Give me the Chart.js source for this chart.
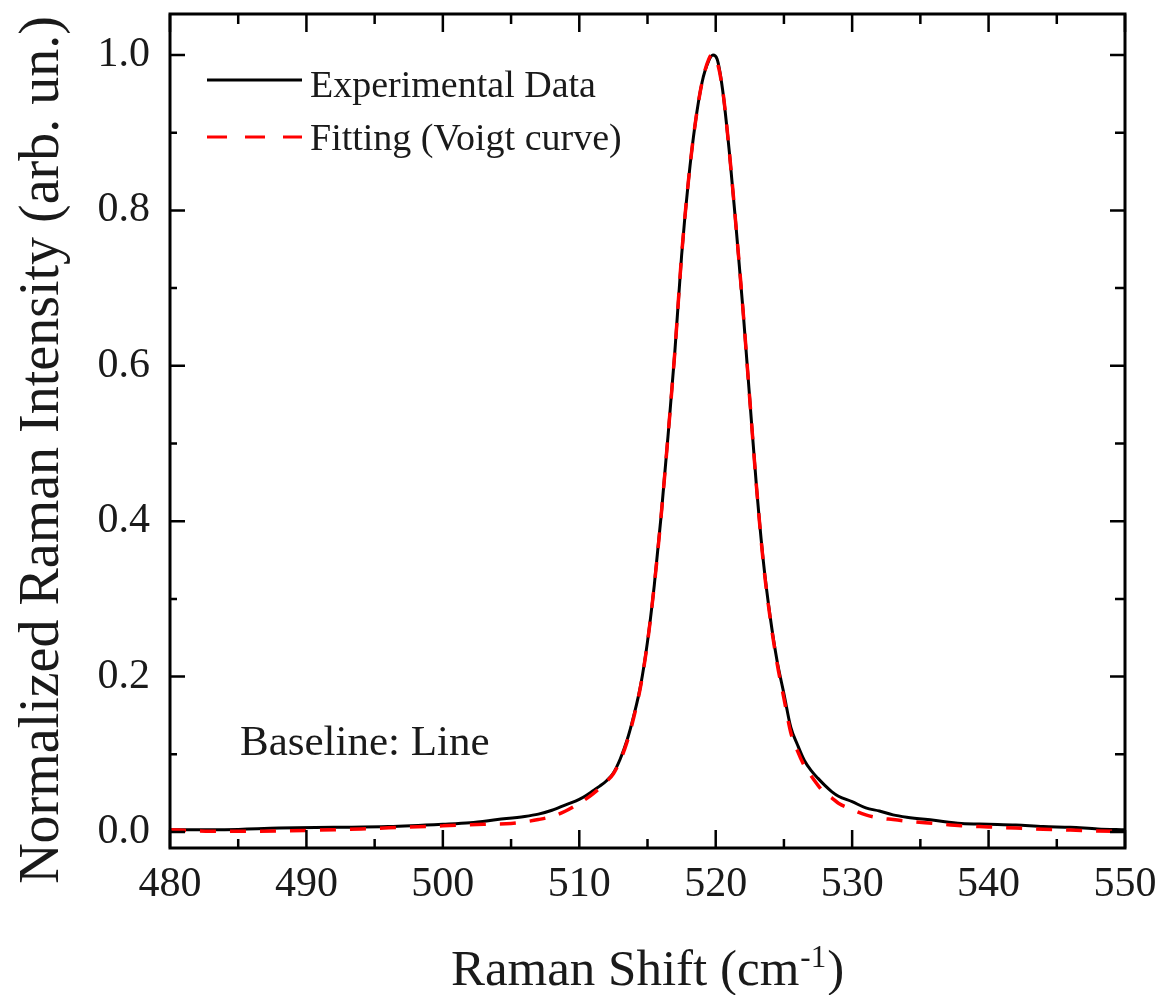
<!DOCTYPE html>
<html>
<head>
<meta charset="utf-8">
<title>Raman spectrum</title>
<script src="https://cdn.jsdelivr.net/npm/chart.js@4.4.1/dist/chart.umd.min.js"></script>
<style>
  html, body { margin: 0; padding: 0; background: #fff; }
  #wrap { width: 1161px; height: 995px; position: relative; }
</style>
</head>
<body>
<div id="wrap"><canvas id="ramanChart"></canvas></div>
<script>
// Experimental spectrum (black solid line)
const expX = [480, 484, 488, 492, 496, 500, 502, 504, 506, 507,
  508, 509, 510, 510.5, 511, 511.5, 512, 512.5, 513, 513.5,
  514, 514.5, 515, 515.5, 516, 516.5, 517, 517.5, 518, 518.5,
  519, 519.5, 519.8, 520.1, 520.5, 521, 521.5, 522, 522.5, 523,
  523.5, 524, 524.5, 525, 525.5, 526, 526.5, 527, 527.5, 528,
  528.5, 529, 530, 531, 532, 533, 534, 536, 538, 540,
  542, 544, 546, 548, 550];
const expY = [0.003, 0.003, 0.005, 0.006, 0.007, 0.010, 0.012, 0.016, 0.020, 0.023,
  0.028, 0.035, 0.042, 0.047, 0.053, 0.059, 0.066, 0.076, 0.094, 0.118,
  0.150, 0.189, 0.245, 0.318, 0.407, 0.509, 0.617, 0.742, 0.838, 0.912,
  0.965, 0.993, 1.000, 0.995, 0.956, 0.875, 0.777, 0.672, 0.556, 0.442,
  0.347, 0.276, 0.220, 0.178, 0.135, 0.112, 0.092, 0.079, 0.069, 0.060,
  0.052, 0.046, 0.039, 0.031, 0.027, 0.022, 0.019, 0.015, 0.011, 0.010,
  0.009, 0.007, 0.006, 0.004, 0.003];

// Voigt fit (red dashed line)
const fitX = [480, 483, 486, 490, 494, 497, 500, 503, 505, 506,
  507, 508, 509, 510, 511, 512, 512.5, 513, 513.5, 514,
  514.5, 515, 515.5, 516, 516.5, 517, 517.5, 518, 518.5, 519,
  519.5, 519.7, 520, 520.5, 521, 521.5, 522, 522.5, 523, 523.5,
  524, 524.5, 525, 525.5, 526, 526.5, 527, 527.5, 528, 528.5,
  529, 530, 531, 532, 533, 534, 536, 538, 540, 542,
  544, 546, 548, 550];
const fitY = [0.003, 0.001, 0.001, 0.002, 0.004, 0.006, 0.008, 0.010, 0.011, 0.013,
  0.016, 0.020, 0.027, 0.037, 0.049, 0.065, 0.075, 0.092, 0.116, 0.148,
  0.188, 0.244, 0.318, 0.407, 0.509, 0.617, 0.742, 0.838, 0.912, 0.965,
  0.995, 1.000, 0.996, 0.956, 0.875, 0.777, 0.672, 0.556, 0.442, 0.345,
  0.274, 0.217, 0.172, 0.128, 0.104, 0.085, 0.072, 0.060, 0.050, 0.044,
  0.037, 0.029, 0.022, 0.018, 0.016, 0.014, 0.011, 0.008, 0.0065, 0.005,
  0.0035, 0.0025, 0.0013, 0.001];

// Axis ticks
const xTicks = [480, 490, 500, 510, 520, 530, 540, 550];
const yTicks = [0.0, 0.2, 0.4, 0.6, 0.8, 1.0];

const SERIF = '"Liberation Serif", "Times New Roman", serif';

const toPoints = (xs, ys) => xs.map((x, i) => ({ x: x, y: ys[i] }));

// frame, inward ticks on all four sides, legend, annotations and axis titles
const decorations = {
  id: 'decorations',
  afterDraw(chart) {
    const { ctx, chartArea: a, scales: { x, y } } = chart;
    ctx.save();
    ctx.strokeStyle = '#000';
    ctx.lineCap = 'butt';

    // ticks
    ctx.lineWidth = 2.5;
    ctx.beginPath();
    const xStep = xTicks[1] - xTicks[0];
    xTicks.forEach((v, i) => {
      const px = x.getPixelForValue(v);
      ctx.moveTo(px, a.bottom); ctx.lineTo(px, a.bottom - 18);
      ctx.moveTo(px, a.top); ctx.lineTo(px, a.top + 18);
      if (i < xTicks.length - 1) {
        const pm = x.getPixelForValue(v + xStep / 2);
        ctx.moveTo(pm, a.bottom); ctx.lineTo(pm, a.bottom - 9);
        ctx.moveTo(pm, a.top); ctx.lineTo(pm, a.top + 10);
      }
    });
    const yStep = yTicks[1] - yTicks[0];
    yTicks.forEach((v, i) => {
      const py = y.getPixelForValue(v);
      ctx.moveTo(a.left, py); ctx.lineTo(a.left + 15, py);
      ctx.moveTo(a.right, py); ctx.lineTo(a.right - 15, py);
      if (i < yTicks.length - 1) {
        const pm = y.getPixelForValue(v + yStep / 2);
        ctx.moveTo(a.left, pm); ctx.lineTo(a.left + 7, pm);
        ctx.moveTo(a.right, pm); ctx.lineTo(a.right - 10, pm);
      }
    });
    ctx.stroke();

    // frame
    ctx.lineWidth = 3;
    ctx.strokeRect(a.left, a.top, a.right - a.left, a.bottom - a.top);

    // legend
    ctx.lineWidth = 3;
    ctx.beginPath();
    ctx.moveTo(207, 80); ctx.lineTo(302, 80);
    ctx.stroke();
    ctx.strokeStyle = '#ff0000';
    ctx.setLineDash([20, 18]);
    ctx.beginPath();
    ctx.moveTo(207, 137); ctx.lineTo(302, 137);
    ctx.stroke();
    ctx.setLineDash([]);

    ctx.fillStyle = '#1a1a1a';
    ctx.textBaseline = 'alphabetic';
    ctx.textAlign = 'left';
    ctx.font = '38px ' + SERIF;
    ctx.fillText('Experimental Data', 310, 97);
    ctx.fillText('Fitting (Voigt curve)', 310, 150);

    ctx.font = '43px ' + SERIF;
    ctx.fillText('Baseline: Line', 240, 755);

    // x axis title with superscript
    const main1 = 'Raman Shift (cm';
    const sup = '-1';
    const main2 = ')';
    ctx.font = '51px ' + SERIF;
    const w1 = ctx.measureText(main1).width;
    const w3 = ctx.measureText(main2).width;
    ctx.font = '31px ' + SERIF;
    const w2 = ctx.measureText(sup).width;
    const total = w1 + w2 + w3 + 2;
    let tx = (a.left + a.right) / 2 - total / 2;
    ctx.font = '51px ' + SERIF;
    ctx.fillText(main1, tx, 985);
    tx += w1 + 1;
    ctx.font = '31px ' + SERIF;
    ctx.fillText(sup, tx, 967);
    tx += w2 + 1;
    ctx.font = '51px ' + SERIF;
    ctx.fillText(main2, tx, 985);

    // y axis title
    ctx.translate(58, 450);
    ctx.rotate(-Math.PI / 2);
    ctx.textAlign = 'center';
    ctx.font = '56px ' + SERIF;
    ctx.fillText('Normalized Raman Intensity (arb. un.)', 0, 0);

    ctx.restore();
  }
};

const ctx = document.getElementById('ramanChart').getContext('2d');
const chart = new Chart(ctx, {
  type: 'line',
  data: {
    datasets: [{
      label: 'Experimental Data',
      data: toPoints(expX, expY),
      borderColor: '#000000',
      borderWidth: 3,
      pointRadius: 0,
      cubicInterpolationMode: 'monotone',
      fill: false,
      order: 1
    }, {
      label: 'Fitting (Voigt curve)',
      data: toPoints(fitX, fitY),
      borderColor: '#ff0000',
      borderWidth: 3.5,
      borderDash: [16, 14],
      pointRadius: 0,
      cubicInterpolationMode: 'monotone',
      fill: false,
      order: 0
    }]
  },
  options: {
    responsive: true,
    maintainAspectRatio: false,
    animation: false,
    layout: { padding: { left: 0, right: 36, top: 14, bottom: 0 } },
    plugins: {
      legend: { display: false },
      tooltip: { enabled: false },
      title: { display: false }
    },
    scales: {
      x: {
        type: 'linear',
        min: 480,
        max: 550,
        grid: { display: false, drawTicks: false },
        border: { display: false },
        afterBuildTicks: s => { s.ticks = xTicks.map(v => ({ value: v })); },
        afterFit: s => {
          s.height = 147;
          s.paddingLeft = 0;
          s.paddingRight = 0;
        },
        ticks: {
          autoSkip: false,
          maxRotation: 0,
          padding: 12,
          color: '#1a1a1a',
          font: { family: SERIF, size: 42 },
          callback: v => String(v)
        }
      },
      y: {
        type: 'linear',
        min: -0.0206,
        max: 1.0528,
        grid: { display: false, drawTicks: false },
        border: { display: false },
        afterBuildTicks: s => { s.ticks = yTicks.map(v => ({ value: v })); },
        afterFit: s => {
          s.width = 170;
          s.paddingTop = 0;
          s.paddingBottom = 0;
        },
        ticks: {
          padding: 20,
          color: '#1a1a1a',
          font: { family: SERIF, size: 42 },
          callback: v => v.toFixed(1)
        }
      }
    }
  },
  plugins: [decorations]
});
</script>
</body>
</html>
